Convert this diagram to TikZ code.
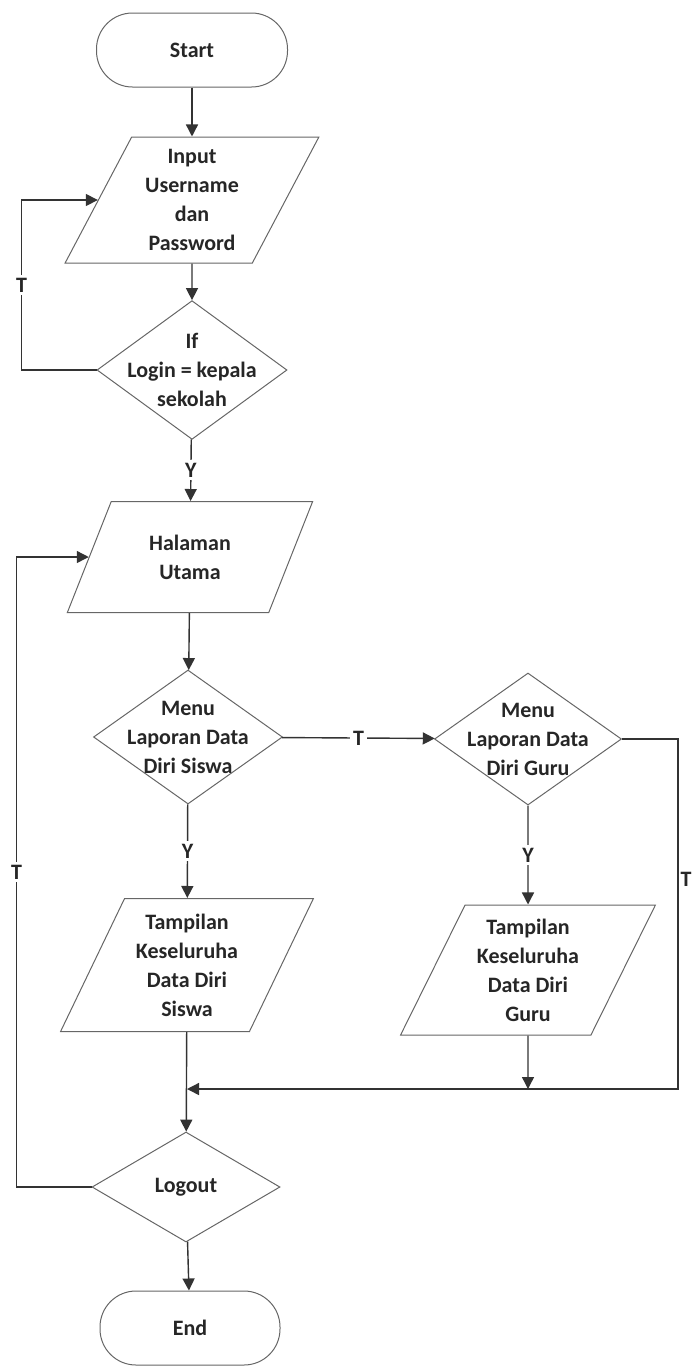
\documentclass[tikz,border=0pt]{standalone}
\usepackage{fontspec}
\setmainfont{Carlito}
\usetikzlibrary{shapes.geometric,arrows.meta}
\begin{document}
\begin{tikzpicture}[x=0.5pt,y=-0.5pt,
  font=\fontsize{11}{14.5}\selectfont\bfseries,
  every node/.style={text=black!85},
  terminal/.style={draw=black!60,line width=0.5pt,rounded corners=18pt,minimum height=37pt,inner sep=0pt},
  io/.style={trapezium,trapezium left angle=63,trapezium right angle=117,trapezium stretches=true,
    draw=black!60,line width=0.5pt,align=center,inner sep=0pt},
  decision/.style={diamond,draw=black!60,line width=0.5pt,align=center,inner sep=-8pt},
  flow/.style={-{Triangle[width=6pt,length=6pt]},line width=0.7pt,draw=black!80},
  lbl/.style={fill=white,inner sep=1.5pt}]
\useasboundingbox (0,0) rectangle (694,1367);
\node[terminal,minimum width=95.5pt] (start) at (192,50) {Start};
\node[io,minimum width=127.5pt,minimum height=63pt] (input) at (192,200) {Input\\Username\\dan\\Password};
\node[decision,minimum width=95pt,minimum height=66pt] (login) at (192,370) {If\\Login = kepala\\sekolah};
\node[io,minimum width=123pt,minimum height=55.5pt] (home) at (190,557) {Halaman\\Utama};
\node[decision,minimum width=94.5pt,minimum height=67pt] (siswa) at (188,737) {Menu\\Laporan Data\\Diri Siswa};
\node[decision,minimum width=93.5pt,minimum height=66pt] (guru) at (528,739) {Menu\\Laporan Data\\Diri Guru};
\node[io,minimum width=126.5pt,minimum height=66.5pt] (tsiswa) at (187,965) {Tampilan\\Keseluruha\\Data Diri\\Siswa};
\node[io,minimum width=127.5pt,minimum height=65pt] (tguru) at (528,970) {Tampilan\\Keseluruha\\Data Diri\\Guru};
\node[decision,minimum width=94pt,minimum height=55pt] (logout) at (186,1187) {Logout};
\node[terminal,minimum width=90pt] (end) at (190,1328) {End};
\coordinate (merge) at (187,1089);
\draw[flow] (start) -- (input);
\draw[flow] (input) -- (login);
\draw[flow] (login.west) -- ++(-75,0) |- node[lbl,pos=0.25] {T} (input);
\draw[flow] (login) -- node[lbl] {Y} (home);
\draw[flow] (home) -- (siswa);
\draw[flow] (siswa) -- node[lbl] {T} (guru);
\draw[flow] (siswa) -- node[lbl] {Y} (tsiswa);
\draw[flow] (guru) -- node[lbl] {Y} (tguru);
\draw[flow] (guru.east) -- ++(56,0) |- node[pos=0.2,anchor=west,inner sep=1pt] {T} (merge);
\draw[flow] (tguru) -- (tguru |- merge);
\draw[flow] (tsiswa) -- (logout);
\draw[flow] (logout) -- (end);
\draw[flow] (logout.west) -- ++(-75,0) |- node[lbl,pos=0.25] {T} (home);
\end{tikzpicture}
\end{document}
